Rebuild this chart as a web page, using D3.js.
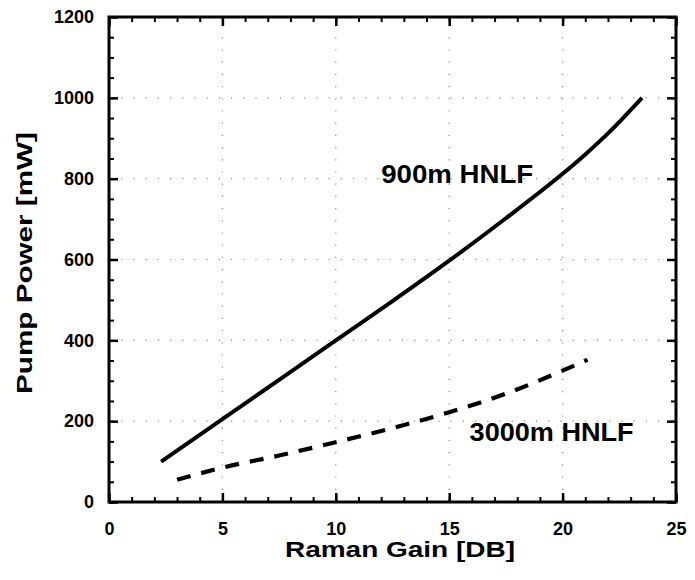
<!DOCTYPE html>
<html>
<head>
<meta charset="utf-8">
<script src="https://cdn.jsdelivr.net/npm/d3@7"></script>
<style>
    body { margin: 0; background: #fff; }
    text { font-family: "Liberation Sans", Arial, sans-serif; font-weight: bold; fill: #000; }
</style>
</head>
<body>
<div id="chart"></div>
<script>
// data
let gain900 = [2.3, 4, 5, 7.5, 10, 12.5, 15, 17.5, 20, 21, 22, 23.5];
let power900 = [100, 166, 205, 302, 400, 497, 597, 702, 812, 860, 912, 1000];
let gain3000 = [3, 5, 7.5, 10, 12.5, 15, 17.5, 20, 21.1];
let power3000 = [55, 85, 115, 148, 183, 222, 268, 325, 352];
let xTicks = [0, 5, 10, 15, 20, 25];
let yTicks = [0, 200, 400, 600, 800, 1000, 1200];
let labels = [
    {text: "900m HNLF", x: 12.0, y: 790, len: 152},
    {text: "3000m HNLF", x: 15.9, y: 150, len: 164}
];

let width = 695, height = 580;
let margin = {left: 109, right: 19, top: 17, bottom: 78};
let plotW = width - margin.left - margin.right;
let plotH = height - margin.top - margin.bottom;

let svg = d3.select("#chart").append("svg")
    .attr("width", width)
    .attr("height", height);

let x = d3.scaleLinear().domain([0, 25]).range([margin.left, margin.left + plotW]);
let y = d3.scaleLinear().domain([0, 1200]).range([margin.top + plotH, margin.top]);

//dotted grid
let grid = svg.append("g")
    .attr("stroke", "#8a8a8a")
    .attr("stroke-width", 1.2)
    .attr("stroke-dasharray", "1.2,11");
xTicks.slice(1, -1).forEach(t => {
    grid.append("line")
        .attr("x1", x(t)).attr("x2", x(t))
        .attr("y1", y(0)).attr("y2", y(1200));
});
yTicks.slice(1, -1).forEach(t => {
    grid.append("line")
        .attr("x1", x(0)).attr("x2", x(25))
        .attr("y1", y(t)).attr("y2", y(t));
});

//axes, ticks inward on all four sides
let xMinor = d3.range(0, 25.01, 1);
let yMinor = d3.range(0, 1200.1, 50);

let axes = [
    {make: () => d3.axisBottom(x), t: "translate(0," + y(0) + ")", major: xTicks, minor: xMinor, pad: 20},
    {make: () => d3.axisTop(x), t: "translate(0," + y(1200) + ")", major: xTicks, minor: xMinor, pad: 0},
    {make: () => d3.axisLeft(y), t: "translate(" + x(0) + ",0)", major: yTicks, minor: yMinor, pad: 15},
    {make: () => d3.axisRight(y), t: "translate(" + x(25) + ",0)", major: yTicks, minor: yMinor, pad: 0}
];
axes.forEach(a => {
    let gMinor = svg.append("g").attr("transform", a.t)
        .call(a.make().tickValues(a.minor).tickSizeInner(-5).tickSizeOuter(0).tickFormat(""));
    gMinor.selectAll("line").attr("stroke", "#000").attr("stroke-width", 2);
    gMinor.select(".domain").remove();

    let gMajor = svg.append("g").attr("transform", a.t)
        .call(a.make().tickValues(a.major).tickSizeInner(-9).tickSizeOuter(0)
            .tickPadding(a.pad)
            .tickFormat(a.pad ? d3.format("d") : ""));
    gMajor.selectAll("line").attr("stroke", "#000").attr("stroke-width", 2.5);
    gMajor.select(".domain").remove();
    gMajor.selectAll("text")
        .style("font-size", "18px")
        .style("font-family", "\"Liberation Sans\", Arial, sans-serif")
        .style("font-weight", "bold");
});

//frame
svg.append("rect")
    .attr("x", x(0)).attr("y", y(1200))
    .attr("width", x(25) - x(0)).attr("height", y(0) - y(1200))
    .attr("fill", "none")
    .attr("stroke", "#000")
    .attr("stroke-width", 3);

//curves
let line = d3.line()
    .x(d => x(d[0]))
    .y(d => y(d[1]))
    .curve(d3.curveMonotoneX);

svg.append("path")
    .datum(d3.zip(gain900, power900))
    .attr("d", line)
    .attr("fill", "none")
    .attr("stroke", "#000")
    .attr("stroke-width", 4);

svg.append("path")
    .datum(d3.zip(gain3000, power3000))
    .attr("d", line)
    .attr("fill", "none")
    .attr("stroke", "#000")
    .attr("stroke-width", 4.2)
    .attr("stroke-dasharray", "14,11");

//labels
labels.forEach(l => {
    svg.append("text")
        .attr("x", x(l.x))
        .attr("y", y(l.y))
        .attr("textLength", l.len)
        .attr("lengthAdjust", "spacingAndGlyphs")
        .style("font-size", "25px")
        .text(l.text);
});

svg.append("text")
    .attr("x", 400)
    .attr("y", 557)
    .attr("text-anchor", "middle")
    .attr("textLength", 230)
    .attr("lengthAdjust", "spacingAndGlyphs")
    .style("font-size", "22px")
    .text("Raman Gain [DB]");

svg.append("text")
    .attr("transform", "translate(32,263) rotate(-90)")
    .attr("text-anchor", "middle")
    .attr("textLength", 262)
    .attr("lengthAdjust", "spacingAndGlyphs")
    .style("font-size", "22px")
    .text("Pump Power [mW]");
</script>
</body>
</html>
